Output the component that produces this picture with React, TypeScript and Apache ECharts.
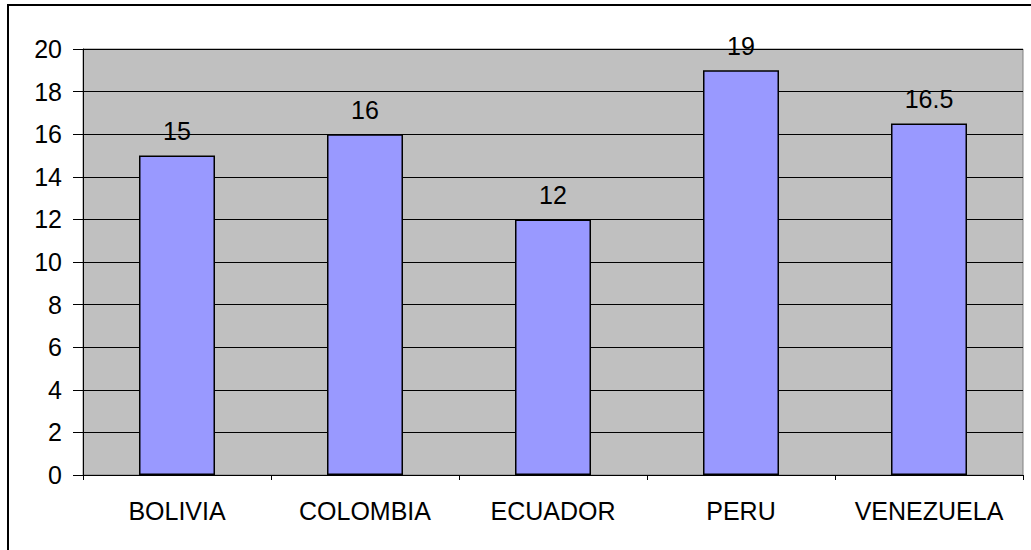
import React, { useEffect, useRef } from "react";
import * as echarts from "echarts";

const countries = ["BOLIVIA", "COLOMBIA", "ECUADOR", "PERU", "VENEZUELA"];
const values = [15, 16, 12, 19, 16.5];
const yTicks = { min: 0, max: 20, interval: 2 };

const FONT = "'Liberation Sans', Arial, sans-serif";

export default function App() {
  const ref = useRef<HTMLDivElement>(null);

  useEffect(() => {
    if (!ref.current) return;
    const chart = echarts.init(ref.current, null, { renderer: "svg" });
    chart.setOption({
      animation: false,
      backgroundColor: "#ffffff",
      textStyle: { fontFamily: FONT },
      graphic: [
        {
          type: "rect",
          shape: { x: 8, y: 5, width: 1100, height: 600 },
          style: { fill: "none", stroke: "#000000", lineWidth: 2 },
          silent: true,
          z: -1,
        },
      ],
      grid: {
        left: 83,
        top: 49,
        right: 8,
        bottom: 75,
        show: true,
        backgroundColor: "#C0C0C0",
        borderColor: "#808080",
        borderWidth: 1,
      },
      xAxis: {
        type: "category",
        data: countries,
        boundaryGap: true,
        axisLine: { show: true, lineStyle: { color: "#000000", width: 1 } },
        axisTick: { show: true, length: 5, interval: 0, lineStyle: { color: "#000000" } },
        axisLabel: {
          color: "#000000",
          fontSize: 25,
          fontFamily: FONT,
          margin: 23,
          interval: 0,
        },
        splitLine: { show: false },
      },
      yAxis: {
        type: "value",
        min: yTicks.min,
        max: yTicks.max,
        interval: yTicks.interval,
        axisLine: { show: true, lineStyle: { color: "#000000", width: 1 } },
        axisTick: { show: true, length: 10, lineStyle: { color: "#000000" } },
        axisLabel: { color: "#000000", fontSize: 25, fontFamily: FONT, margin: 21 },
        splitLine: { show: true, lineStyle: { color: "#000000", width: 1 } },
      },
      series: [
        {
          type: "bar",
          data: values,
          barWidth: 76,
          itemStyle: { color: "#9999FF", borderColor: "#000000", borderWidth: 1.5 },
          label: {
            show: true,
            position: "top",
            distance: 12,
            color: "#000000",
            fontSize: 25,
            fontFamily: FONT,
          },
        },
      ],
    });
    return () => chart.dispose();
  }, []);

  return (
    <div
      ref={ref}
      style={{ position: "fixed", left: 0, top: 0, width: 1031, height: 550 }}
    />
  );
}
